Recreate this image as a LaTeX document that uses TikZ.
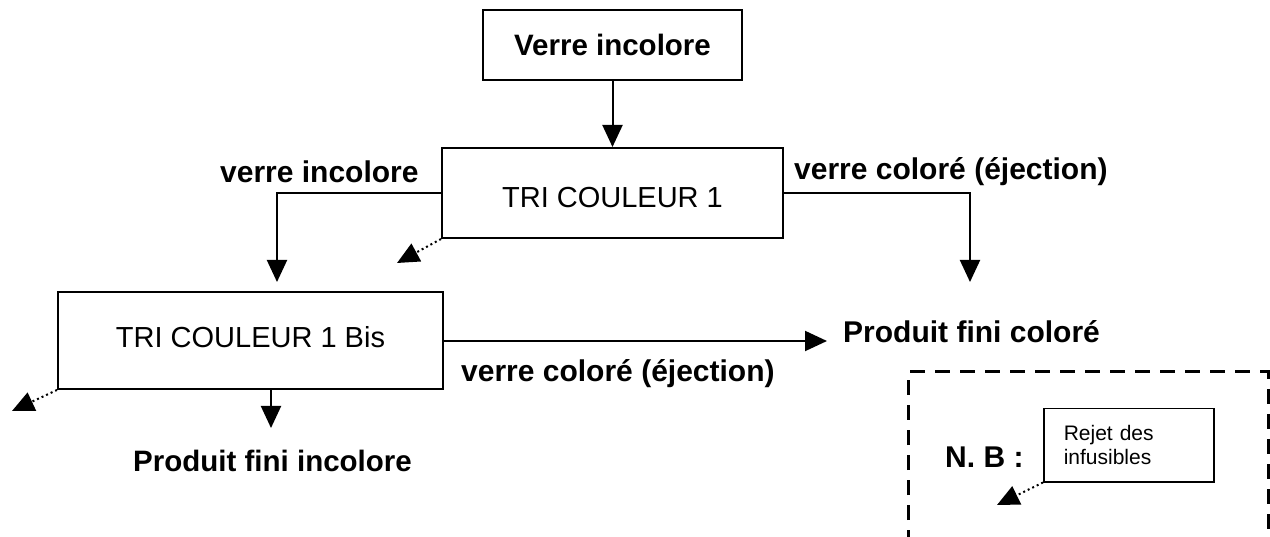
\documentclass[tikz,border=0pt]{standalone}
\usepackage{fontspec}
\setmainfont{Liberation Sans}
\usetikzlibrary{arrows.meta}
\begin{document}
\begin{tikzpicture}[x=1pt,y=-1pt,
  box/.style={draw,line width=2pt,inner sep=0pt,font=\fontsize{29}{34}\selectfont},
  boxtext/.style={font=\fontsize{29}{34}\selectfont,inner sep=0pt},
  lbl/.style={font=\bfseries\fontsize{30}{35}\selectfont,inner sep=0pt,anchor=west},
  arr/.style={line width=2pt,-{Triangle[length=22pt,width=20pt]}},
  dotarr/.style={line width=2pt,dash pattern=on 2pt off 3pt,-{Triangle[length=22pt,width=20pt]}},
  nbbox/.style={line width=3pt,dash pattern=on 15pt off 10pt}]
\useasboundingbox (0,0) rectangle (1270,537);
% boxes
\node[box,font=\bfseries\fontsize{29.5}{34}\selectfont,minimum width=259,minimum height=70] (vi) at (612.5,45) {Verre incolore};
\node[box,minimum width=341,minimum height=90,label={[boxtext,yshift=-5pt]center:TRI COULEUR 1}] (tri) at (612.5,193) {};
\node[box,minimum width=385,minimum height=97,label={[boxtext,yshift=3pt]center:TRI COULEUR 1 Bis}] (bis) at (250.5,340.5) {};
% labels
\node[lbl] (l1) at (220,172) {verre incolore};
\node[lbl] (l2) at (794,172) {verre coloré (éjection)};
\node[lbl] (pfc) at (843,332) {Produit fini coloré};
\node[lbl] (l3) at (461,374) {verre coloré (éjection)};
\node[lbl,font=\bfseries\fontsize{29.5}{35}\selectfont] (pfi) at (133,461) {Produit fini incolore};
% free ends
\coordinate (c1) at (277,282);
\coordinate (c2) at (970,282);
\coordinate (c3) at (827,341);
\coordinate (c4) at (271,428);
\coordinate (d1) at (397,263);
\coordinate (d2) at (12,411);
\coordinate (d3) at (997,505);
% connectors
\draw[arr] (vi.south -| tri.north) -- (tri.north);
\draw[arr] (tri.west) -| (c1);
\draw[arr] (tri.east) -| (c2);
\draw[arr] (bis.east |- c3) -- (c3);
\draw[arr] (bis.south -| c4) -- (c4);
\draw[dotarr] (tri.south west) -- (d1);
\draw[dotarr] (bis.south west) -- (d2);
% N.B. legend
\draw[nbbox] (908,545) -- (908,372) -- (1268,372) -- (1268,545);
\node[lbl] (nb) at (945,457) {N. B :};
\node[draw,line width=1.5pt,anchor=north west,align=left,text width=130,inner xsep=20,inner ysep=6,minimum height=73,font=\fontsize{21}{24}\selectfont] (rej) at (1043,408) {Rejet des\\infusibles};
\draw[dotarr] (rej.south west) -- (d3);
\end{tikzpicture}
\end{document}
